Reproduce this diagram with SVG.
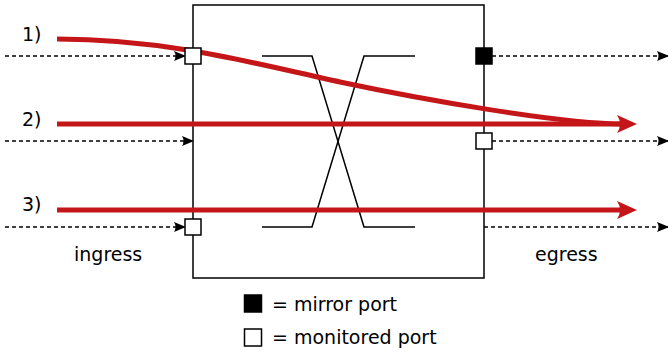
<svg xmlns="http://www.w3.org/2000/svg" width="668" height="356" viewBox="0 0 668 356">
  <style>
    .box { fill: none; stroke: #000; stroke-width: 1.5; }
    .xline { fill: none; stroke: #000; stroke-width: 1.5; }
    .dash { fill: none; stroke: #000; stroke-width: 1.5; stroke-dasharray: 4 3; }
    .flow { fill: none; stroke: #c41618; stroke-width: 5; }
    .head { fill: #c41618; }
    .port { fill: #fff; stroke: #000; stroke-width: 1.5; }
    .mirror { fill: #000; stroke: #000; stroke-width: 1.5; }
    .lbl { font-family: "DejaVu Sans", sans-serif; font-size: 19px; fill: #000; }
  </style>
  <defs>
    <marker id="tip" viewBox="0 0 12 10" refX="11" refY="5" markerWidth="12" markerHeight="10" markerUnits="userSpaceOnUse" orient="auto">
      <path d="M12,5 L0,0 Q3,5 0,10 Z" fill="#000"/>
    </marker>
  </defs>

  <!-- switch body -->
  <g id="switch">
    <rect class="box" x="193" y="5" width="291" height="273"/>
    <path class="xline" d="M262,56 H312 L364,227 H415"/>
    <path class="xline" d="M262,227 H312 L364,56 H415"/>
  </g>

  <!-- connectors -->
  <g id="connectors">
    <path class="dash" d="M5,56 H185" marker-end="url(#tip)"/>
    <path class="dash" d="M5,141 H193" marker-end="url(#tip)"/>
    <path class="dash" d="M5,227 H185" marker-end="url(#tip)"/>
    <path class="dash" d="M492,56 H668" marker-end="url(#tip)"/>
    <path class="dash" d="M492,141 H668" marker-end="url(#tip)"/>
    <path class="dash" d="M484,227 H668" marker-end="url(#tip)"/>

    <path class="flow" d="M57,39 C170,39 260,65 340,82 S560,124 624,124"/>
    <path class="flow" d="M57,124 H624"/>
    <path class="flow" d="M57,210 H624"/>
    <path class="head" d="M637,124 L617,115 Q623,124 617,133 Z"/>
    <path class="head" d="M637,210 L617,201 Q623,210 617,219 Z"/>
  </g>

  <!-- ports -->
  <g id="port-in-1"><rect class="port" x="185" y="48" width="16" height="16"/></g>
  <g id="port-in-3"><rect class="port" x="185" y="219" width="16" height="16"/></g>
  <g id="port-out-1"><rect class="mirror" x="476" y="48" width="16" height="16"/></g>
  <g id="port-out-2"><rect class="port" x="476" y="133" width="16" height="16"/></g>

  <!-- labels -->
  <text class="lbl" x="22" y="41">1)</text>
  <text class="lbl" x="22" y="126">2)</text>
  <text class="lbl" x="22" y="211">3)</text>
  <text class="lbl" x="74" y="261">ingress</text>
  <text class="lbl" x="535" y="261">egress</text>

  <!-- legend -->
  <g id="legend">
    <rect class="mirror" x="244.5" y="295" width="17" height="17"/>
    <rect class="port" x="244.5" y="329" width="17" height="17"/>
    <text class="lbl" x="272" y="311">= mirror port</text>
    <text class="lbl" x="272" y="344">= monitored port</text>
  </g>
</svg>
